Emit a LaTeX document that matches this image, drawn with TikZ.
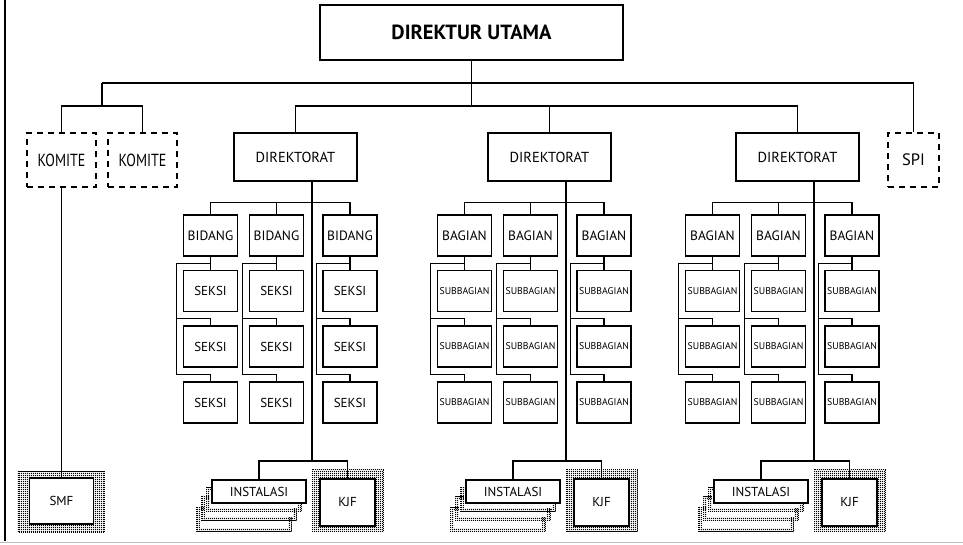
\documentclass[tikz,border=0pt]{standalone}
\usepackage{fontspec}
\setmainfont{PT Sans}
\newfontfamily\narrowsans[FakeStretch=0.8]{PT Sans}
\usetikzlibrary{patterns,backgrounds}

% fine grid of small squares used for the textured frames and stacked copies
\pgfdeclarepatternformonly{finegrid}{\pgfpointorigin}{\pgfqpoint{2.2pt}{2.2pt}}{\pgfqpoint{2.2pt}{2.2pt}}{%
  \pgfpathrectangle{\pgfpointorigin}{\pgfqpoint{1.6pt}{1.6pt}}\pgfusepath{fill}}

\begin{document}
\begin{tikzpicture}[x=1pt,y=-1pt,
  box/.style={draw, line width=1.3pt, fill=white, inner sep=0pt, align=center},
  dbox/.style={box, dash pattern=on 6pt off 5pt},
  unit/.style={box, minimum width=54pt, minimum height=41pt},
  link/.style={line width=1.2pt},
  dufont/.style={font=\bfseries\fontsize{20.5pt}{20.5pt}\selectfont},
  dirfont/.style={font=\fontsize{14.5pt}{14.5pt}\selectfont},
  komfont/.style={font=\narrowsans\fontsize{17.5pt}{17.5pt}\selectfont},
  spifont/.style={font=\fontsize{16.5pt}{16.5pt}\selectfont},
  headfont/.style={font=\fontsize{13.5pt}{13.5pt}\selectfont},
  seksifont/.style={font=\fontsize{13pt}{13pt}\selectfont},
  subfont/.style={font=\fontsize{9.8pt}{9.8pt}\selectfont},
  botfont/.style={font=\fontsize{13pt}{13pt}\selectfont},
  texture/.style={pattern=finegrid},
  rim/.style={draw, line width=0.7pt, dash pattern=on 1pt off 1pt}]
\useasboundingbox (0,0) rectangle (963,544);

% page edges
\draw[line width=1.6pt] (5,0) -- (5,541);
\draw[black!25, line width=1.5pt] (0,542.5) -- (963,542.5);

% top level
\node[box, dufont, minimum width=303pt, minimum height=55pt] (du) at (471.5,32.5) {DIREKTUR UTAMA};

\node[dbox, komfont, minimum width=69pt, minimum height=54pt] (komite1) at (61.5,160) {KOMITE};
\node[dbox, komfont, minimum width=69pt, minimum height=54pt] (komite2) at (142.5,160) {KOMITE};
\node[dbox, spifont, minimum width=51pt, minimum height=54pt] (spi) at (913.5,160) {SPI};

\node[box, botfont, minimum width=64pt, minimum height=46pt] (smf) at (61.5,501) {SMF};

\coordinate (kb) at (102,83);
\coordinate (kj) at (102,106);
\coordinate (j0) at (471.5,106);

% groups of directorates
\foreach \g/\o/\head/\sub/\rf in {1/0/BIDANG/SEKSI/seksifont,
                                  2/254/BAGIAN/SUBBAGIAN/subfont,
                                  3/502/BAGIAN/SUBBAGIAN/subfont} {
  \node[box, dirfont, minimum width=123pt, minimum height=48pt] (dir\g) at (295.5+\o,157) {DIREKTORAT};
  \foreach \c/\cx in {1/210.5, 2/276.5, 3/350} {
    \node[unit, headfont] (g\g-\c-h) at (\cx+\o,235.5) {\head};
    \node[unit, \rf] (g\g-\c-r1) at (\cx+\o,291) {\sub};
    \node[unit, \rf] (g\g-\c-r2) at (\cx+\o,346.5) {\sub};
    \node[unit, \rf] (g\g-\c-r3) at (\cx+\o,402.5) {\sub};
    \draw[link] (g\g-\c-h.south) -- (g\g-\c-r1.north);
    \draw[link] ([yshift=-7pt]g\g-\c-h.south) -| ([xshift=-6pt,yshift=7pt]g\g-\c-r3.north west) -| (g\g-\c-r3.north);
    \draw[link] ([xshift=-6pt,yshift=7pt]g\g-\c-r2.north west) -| (g\g-\c-r2.north);
  }
  \draw[link] (g\g-1-h.north) -- ++(0,-12) -| (g\g-3-h.north);
  \draw[link] (g\g-2-h.north) -- ++(0,-12);

  \coordinate (s\g) at (312+\o,461);
  \draw[link] (s\g |- dir\g.south) -- (s\g);

  \node[box, botfont, minimum width=94pt, minimum height=23pt] (inst\g) at (259+\o,491.5) {INSTALASI};
  \node[box, botfont, minimum width=55pt, minimum height=47pt] (kjf\g) at (347.5+\o,502.5) {KJF};
  \draw[link] (inst\g.north) |- (s\g) -| (kjf\g.north);

  \begin{scope}[on background layer]
    \fill[texture] ([shift={(-7pt,9pt)}]kjf\g.north west) rectangle ([shift={(8pt,-5pt)}]kjf\g.south east);
    \path[rim] ([shift={(-7pt,9pt)}]kjf\g.north west) rectangle ([shift={(8pt,-5pt)}]kjf\g.south east);
    \foreach \dx/\dy in {15pt/28pt, 10pt/17pt, 5pt/8pt} {
      \fill[texture] ([xshift=-\dx,yshift=-\dy]inst\g.north west) rectangle ([xshift=-\dx,yshift=-\dy]inst\g.south east);
      \path[rim] ([xshift=-\dx,yshift=-\dy]inst\g.north west) rectangle ([xshift=-\dx,yshift=-\dy]inst\g.south east);
      \fill[white] ([xshift=3.5pt-\dx,yshift=-3.5pt-\dy]inst\g.north west) rectangle ([xshift=-3.5pt-\dx,yshift=3.5pt-\dy]inst\g.south east);
    }
  \end{scope}
}

\begin{scope}[on background layer]
  \fill[texture] ([shift={(-11pt,6pt)}]smf.north west) rectangle ([shift={(10pt,-8pt)}]smf.south east);
  \path[rim] ([shift={(-11pt,6pt)}]smf.north west) rectangle ([shift={(10pt,-8pt)}]smf.south east);
\end{scope}

% connectors of the top level
\draw[link] (du) -- (j0);
\draw[link] (kb) -- (kb -| spi.north) -- (spi.north);
\draw[link] (kb) -- (kj);
\draw[link] (komite1.north) |- (kj) -| (komite2.north);
\draw[link] (dir1.north) |- (j0) -| (dir3.north);
\draw[link] (dir2.north) -- (dir2.north |- j0);
\draw[link] (komite1.south) -- (smf.north);
\end{tikzpicture}
\end{document}
